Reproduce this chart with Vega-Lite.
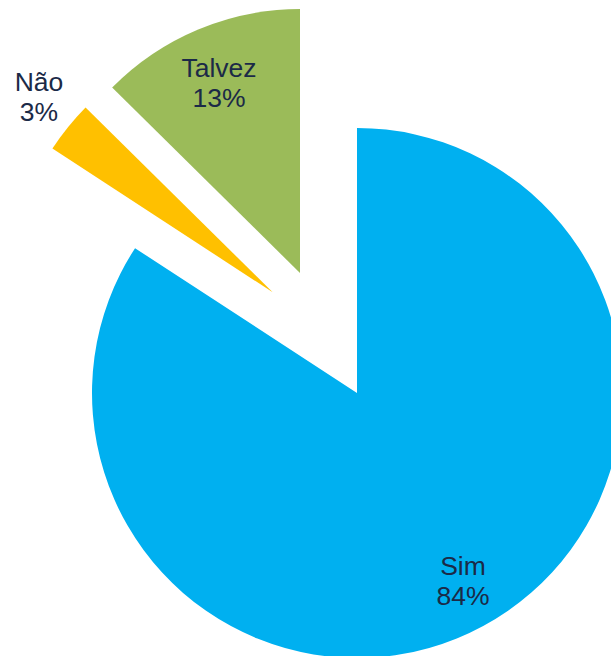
{
  "$schema": "https://vega.github.io/schema/vega-lite/v6.json",
  "width": 611,
  "height": 656,
  "autosize": "none",
  "padding": 0,
  "background": "white",
  "config": {"view": {"stroke": null}},
  "data": {"values": [
    {"answer": "Sim", "value": 84.2, "order": 1, "label": "Sim\n84%"},
    {"answer": "Não", "value": 3.2, "order": 2, "label": "Não\n3%"},
    {"answer": "Talvez", "value": 12.6, "order": 3, "label": "Talvez\n13%"}
  ]},
  "encoding": {
    "theta": {"field": "value", "type": "quantitative", "stack": true},
    "order": {"field": "order", "type": "quantitative"},
    "color": {"field": "answer", "type": "nominal", "scale": {"domain": ["Sim", "Não", "Talvez"], "range": ["#00B0F0", "#FFC000", "#9BBB59"]}, "legend": null}
  },
  "layer": [
    {"mark": {"type": "arc", "outerRadius": 265, "xOffset": 51.5, "yOffset": 65},
     "encoding": {"opacity": {"condition": {"test": "datum.answer === 'Sim'", "value": 1}, "value": 0}}},
    {"mark": {"type": "arc", "outerRadius": 263, "xOffset": -32.8, "yOffset": -35.7},
     "encoding": {"opacity": {"condition": {"test": "datum.answer === 'Não'", "value": 1}, "value": 0}}},
    {"mark": {"type": "arc", "outerRadius": 264, "xOffset": -5.5, "yOffset": -55},
     "encoding": {"opacity": {"condition": {"test": "datum.answer === 'Talvez'", "value": 1}, "value": 0}}},
    {"mark": {"type": "text", "radius": 213, "xOffset": 56, "yOffset": 52.2, "font": "Liberation Sans", "fontSize": 26.5, "lineHeight": 30, "lineBreak": "\n", "baseline": "middle", "align": "center"},
     "encoding": {"text": {"field": "label"}, "color": {"value": "#1B2A47"}, "opacity": {"condition": {"test": "datum.answer === 'Sim'", "value": 1}, "value": 0}}},
    {"mark": {"type": "text", "radius": 306, "xOffset": -28.3, "yOffset": -53.4, "font": "Liberation Sans", "fontSize": 26.5, "lineHeight": 30, "lineBreak": "\n", "baseline": "middle", "align": "center"},
     "encoding": {"text": {"field": "label"}, "color": {"value": "#1B2A47"}, "opacity": {"condition": {"test": "datum.answer === 'Não'", "value": 1}, "value": 0}}},
    {"mark": {"type": "text", "radius": 208, "xOffset": -6.3, "yOffset": -66.6, "font": "Liberation Sans", "fontSize": 26.5, "lineHeight": 30, "lineBreak": "\n", "baseline": "middle", "align": "center"},
     "encoding": {"text": {"field": "label"}, "color": {"value": "#1B2A47"}, "opacity": {"condition": {"test": "datum.answer === 'Talvez'", "value": 1}, "value": 0}}}
  ]
}
